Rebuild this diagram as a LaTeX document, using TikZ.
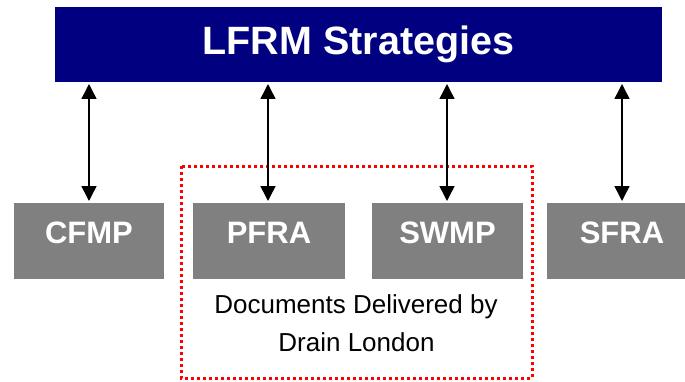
\documentclass[tikz,border=0pt]{standalone}
\usepackage{fontspec}
\setmainfont{Liberation Sans}
\usetikzlibrary{arrows.meta}
\definecolor{navyb}{HTML}{000080}
\definecolor{boxgray}{HTML}{808080}
\begin{document}
\begin{tikzpicture}[x=1pt,y=1pt,
  graybox/.style={fill=boxgray,text=white,font=\bfseries\fontsize{31}{34}\selectfont,inner sep=0pt,minimum height=76pt,text height=23pt,text depth=19pt},
  doctext/.style={font=\fontsize{26}{30}\selectfont,anchor=base,inner sep=0pt},
  link/.style={line width=1.5pt,{Triangle[width=15pt,length=15pt]}-{Triangle[width=15pt,length=15pt]}}]
\useasboundingbox (0,0) rectangle (685,381);
\begin{scope}
\clip (0,0) rectangle (685,381);
\node[fill=navyb,text=white,font=\bfseries\fontsize{39.5}{42}\selectfont,minimum width=607pt,minimum height=75pt,inner sep=0pt,text height=28pt,text depth=8pt] (top) at (358.5,336.5) {LFRM Strategies};
\node[graybox,minimum width=150pt] (cfmp) at (89,140) {CFMP};
\node[graybox,minimum width=152pt] (pfra) at (269,140) {PFRA};
\node[graybox,minimum width=151pt] (swmp) at (447.5,140) {SWMP};
\node[graybox,minimum width=150pt] (sfra) at (622,140) {SFRA};
\draw[red,line width=3pt,dash pattern=on 3pt off 3pt] (181,215) rectangle (532,3);
\node[doctext] (docs1) at (356,68) {Documents Delivered by};
\node[doctext] (docs2) at (356.5,30) {Drain London};
\foreach \n/\x in {cfmp/89,pfra/268,swmp/447,sfra/622}{
  \coordinate (t\n) at (\x,297);
  \coordinate (b\n) at (\x,180);
  \draw[link] (t\n) -- (b\n);
}
\end{scope}
\end{tikzpicture}
\end{document}
